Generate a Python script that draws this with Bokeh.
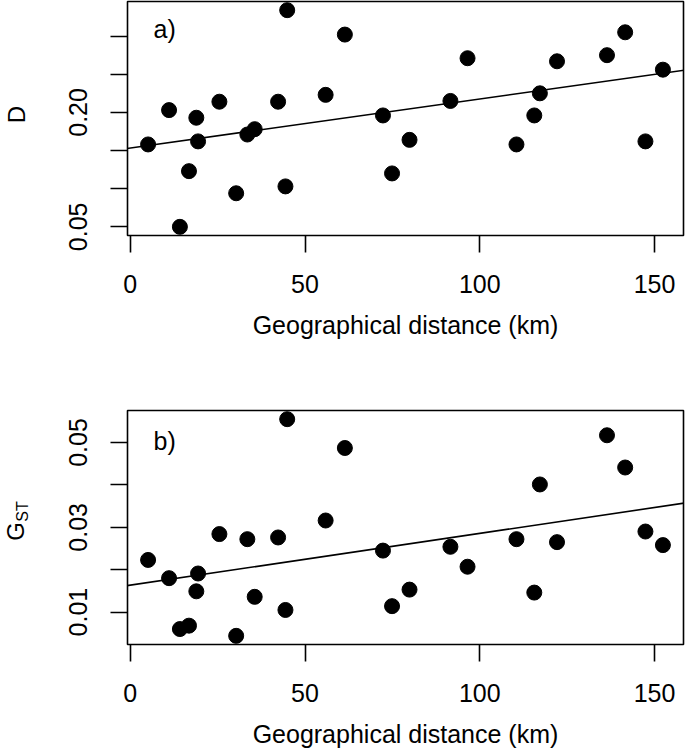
import math
from bokeh.plotting import figure
from bokeh.models import FixedTicker, Range1d, Slope, Label
from bokeh.layouts import column, row
from bokeh.embed import file_html
from bokeh.resources import INLINE
from bokeh.core.properties import value

# ---- data ----
dist_km = [5.1, 11.1, 14.2, 16.8, 18.9, 19.4, 25.5, 30.3, 33.5, 35.6, 42.3, 44.4,
           44.9, 55.9, 61.4, 72.3, 74.9, 79.9, 91.6, 96.5, 110.5, 115.6, 117.2,
           122.1, 136.4, 141.6, 147.4, 152.4]
d_values = [0.158, 0.203, 0.050, 0.123, 0.193, 0.162, 0.214, 0.094, 0.171, 0.178,
            0.214, 0.103, 0.334, 0.223, 0.302, 0.196, 0.120, 0.164, 0.215, 0.271,
            0.158, 0.196, 0.225, 0.267, 0.275, 0.305, 0.162, 0.256]
gst_values = [0.0223, 0.0180, 0.0060, 0.0068, 0.0149, 0.0191, 0.0284, 0.0044,
              0.0272, 0.0136, 0.0276, 0.0105, 0.0555, 0.0316, 0.0487, 0.0245,
              0.0114, 0.0153, 0.0254, 0.0207, 0.0272, 0.0146, 0.0401, 0.0265,
              0.0517, 0.0441, 0.0290, 0.0258]
d_fit = (0.1532, 0.000644)        # intercept, slope
gst_fit = (0.01635, 0.0001221)    # intercept, slope

x_ticks = [0, 50, 100, 150]
d_ticks = [0.05, 0.10, 0.15, 0.20, 0.25, 0.30]
d_tick_labels = ["0.05", "", "", "0.20", "", ""]
gst_ticks = [0.01, 0.02, 0.03, 0.04, 0.05]
gst_tick_labels = ["0.01", "", "0.03", "", "0.05"]
x_title = "Geographical distance (km)"

FONT = "Liberation Sans"
FS = "25px"
FRAME_W, FRAME_H = 556, 234
LAB_W = 30
LEFT = 127 - LAB_W


def r_range(vals):
    lo, hi = min(vals), max(vals)
    pad = 0.04 * (hi - lo)
    return lo - pad, hi + pad


def make_panel(yvals, fit, yticks, ylabels, tag, tag_dy, top_b, bottom_b):
    x0, x1 = r_range(dist_km)
    y0, y1 = r_range(yvals)
    p = figure(frame_width=FRAME_W, frame_height=FRAME_H,
               x_range=Range1d(x0, x1), y_range=Range1d(y0, y1),
               output_backend="svg", toolbar_location=None,
               min_border_left=LEFT, min_border_right=2,
               min_border_top=top_b, min_border_bottom=bottom_b)
    p.grid.visible = False
    p.outline_line_color = "black"
    p.outline_line_width = 1.6
    p.outline_line_alpha = 1
    p.background_fill_color = "white"
    p.border_fill_color = "white"

    p.scatter(dist_km, yvals, size=15, color="black")
    p.add_layout(Slope(gradient=fit[1], y_intercept=fit[0],
                       line_color="black", line_width=1.6))

    for ax in (p.xaxis[0], p.yaxis[0]):
        ax.axis_line_color = None
        ax.major_tick_out = 17
        ax.major_tick_in = 0
        ax.major_tick_line_width = 1.6
        ax.major_tick_line_color = "black"
        ax.minor_tick_line_color = None
        ax.major_label_text_font = FONT
        ax.major_label_text_font_size = FS
        ax.major_label_text_color = "black"
        ax.axis_label_text_font = FONT
        ax.axis_label_text_font_size = FS
        ax.axis_label_text_font_style = "normal"
        ax.axis_label_text_color = "black"

    p.xaxis.ticker = FixedTicker(ticks=x_ticks)
    p.xaxis.axis_label = x_title
    p.xaxis.major_label_standoff = 22
    p.xaxis.axis_label_standoff = 15

    p.yaxis.ticker = FixedTicker(ticks=yticks)
    p.yaxis.major_label_overrides = dict(zip(yticks, ylabels))
    p.yaxis.major_label_orientation = "vertical"
    p.yaxis.major_label_standoff = 23

    # panel tag, positioned as fraction of the frame
    p.add_layout(Label(x=x0 + 26 / FRAME_W * (x1 - x0),
                       y=y1 - tag_dy / FRAME_H * (y1 - y0),
                       text=tag, text_font=FONT, text_font_size=FS,
                       text_color="black", text_align="left",
                       text_baseline="alphabetic"))
    return p


def make_title_strip(top_b, bottom_b, parts):
    """Narrow strip holding the rotated y-axis title (positions in strip pixels)."""
    s = figure(frame_width=LAB_W, frame_height=FRAME_H,
               x_range=Range1d(0, LAB_W), y_range=Range1d(0, FRAME_H),
               output_backend="svg", toolbar_location=None,
               x_axis_location=None, y_axis_location=None,
               min_border=0, min_border_left=0, min_border_right=0,
               min_border_top=top_b, min_border_bottom=bottom_b)
    s.grid.visible = False
    s.outline_line_color = None
    s.background_fill_color = "white"
    s.border_fill_color = "white"
    for txt, bx, cy, size in parts:
        s.text(x=[bx], y=[cy], text=[txt], angle=math.pi / 2,
               text_font=value(FONT), text_font_size=size, text_color="black",
               text_align="center", text_baseline="alphabetic")
    return s


p1 = make_panel(d_values, d_fit, d_ticks, d_tick_labels, "a)", 27, 1, 115)
p2 = make_panel(gst_values, gst_fit, gst_ticks, gst_tick_labels, "b)", 30, 60, 107)

s1 = make_title_strip(1, 115, [("D", 16, 121, "24px")])
s2 = make_title_strip(60, 107, [("G", 15, 113, "24px"),
                                ("ST", 22, 133, "16px")])

layout = column(row(s1, p1), row(s2, p2))
open("out.html", "w").write(file_html(layout, INLINE))
